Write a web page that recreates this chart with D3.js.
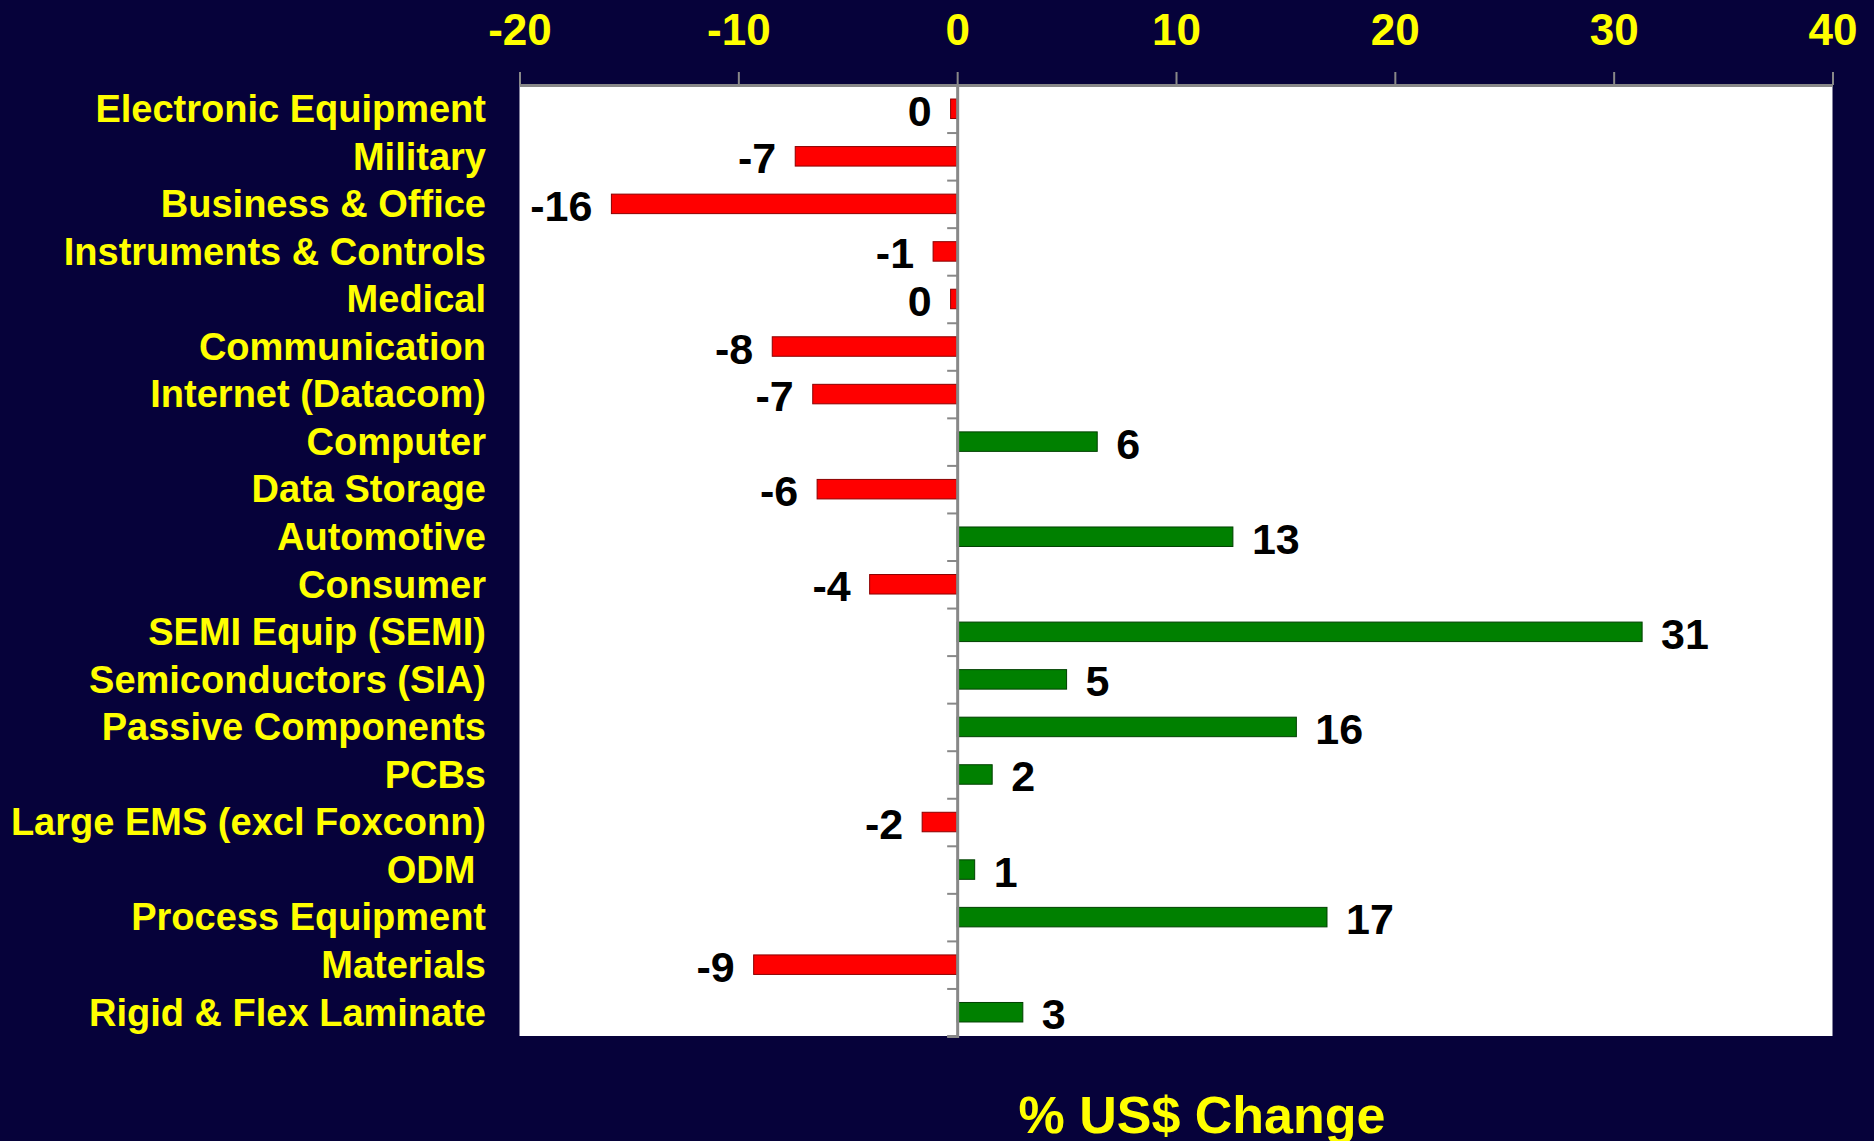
<!DOCTYPE html>
<html>
<head>
<meta charset="utf-8">
<script src="https://cdn.jsdelivr.net/npm/d3@7"></script>
<style>
  html, body { margin: 0; padding: 0; background: #06023A; }
  svg { display: block; }
  text { font-family: "Liberation Sans", Arial, sans-serif; font-weight: bold; }
</style>
</head>
<body>
<svg id="chart" width="1874" height="1141"></svg>
<script>
const categories = [
  "Electronic Equipment", "Military", "Business & Office", "Instruments & Controls",
  "Medical", "Communication", "Internet (Datacom)", "Computer", "Data Storage",
  "Automotive", "Consumer", "SEMI Equip (SEMI)", "Semiconductors (SIA)",
  "Passive Components", "PCBs", "Large EMS (excl Foxconn)", "ODM ",
  "Process Equipment", "Materials", "Rigid & Flex Laminate"
];
const values = [
  -0.3, -7.4, -15.8, -1.1, -0.3, -8.45, -6.6, 6.4, -6.4, 12.6,
  -4.0, 31.3, 5.0, 15.5, 1.6, -1.6, 0.8, 16.9, -9.3, 3.0
];
const valueLabels = [
  "0", "-7", "-16", "-1", "0", "-8", "-7", "6", "-6", "13",
  "-4", "31", "5", "16", "2", "-2", "1", "17", "-9", "3"
];
const xTicks = [-20, -10, 0, 10, 20, 30, 40];
const axisTitle = "% US$ Change";

const svg = d3.select("#chart");
const pLeft = 519.5, pRight = 1832.5, pTop = 85, pBottom = 1036;

const x = d3.scaleLinear().domain([-20, 40]).range([pLeft, pRight]);
const y = d3.scaleBand().domain(categories).range([pTop, pBottom]).paddingInner(0.59).paddingOuter(0.295);
const yIdx = d3.scaleLinear().domain([0, categories.length]).range([pTop, pBottom]);

// plot background
svg.append("rect")
  .attr("x", pLeft).attr("y", pTop)
  .attr("width", pRight - pLeft).attr("height", pBottom - pTop)
  .attr("fill", "#ffffff");

// bars
svg.append("g").selectAll("rect")
  .data(categories)
  .join("rect")
  .attr("x", (d, i) => Math.min(x(0), x(values[i])))
  .attr("y", d => y(d))
  .attr("width", (d, i) => Math.abs(x(values[i]) - x(0)))
  .attr("height", y.bandwidth())
  .attr("fill", (d, i) => values[i] < 0 ? "#FF0000" : "#008000")
  .attr("stroke", (d, i) => values[i] < 0 ? "#8B0000" : "#004000")
  .attr("stroke-width", 1);

// zero-line axis with category boundary ticks
const yAxis = d3.axisLeft(yIdx)
  .tickValues(d3.range(0, categories.length + 1))
  .tickSize(10)
  .tickFormat("");
const gy = svg.append("g")
  .attr("transform", `translate(${x(0)},0)`)
  .call(yAxis);
gy.select(".domain").attr("stroke", "#888888").attr("stroke-width", 3);
gy.selectAll(".tick line").attr("stroke", "#888888").attr("stroke-width", 2);

// top axis
const xAxis = d3.axisTop(x).tickValues(xTicks).tickSize(13).tickSizeOuter(0).tickFormat(d3.format("d"));
const gx = svg.append("g")
  .attr("transform", `translate(0,${pTop})`)
  .call(xAxis);
gx.select(".domain").attr("stroke", "#888888").attr("stroke-width", 3);
gx.selectAll(".tick line").attr("stroke", "#888888").attr("stroke-width", 2);
gx.selectAll(".tick text")
  .text(d => String(d))
  .attr("fill", "#FFFF00")
  .attr("font-size", 44)
  .attr("y", -40)
  .attr("dy", "0")
  .attr("text-anchor", "middle");

// category labels
svg.append("g").selectAll("text")
  .data(categories)
  .join("text")
  .attr("x", 486)
  .attr("y", d => y(d) + y.bandwidth() / 2)
  .attr("dy", "0.35em")
  .attr("text-anchor", "end")
  .attr("fill", "#FFFF00")
  .attr("font-size", 38)
  .style("white-space", "pre")
  .text(d => d);

// value labels
svg.append("g").selectAll("text")
  .data(categories)
  .join("text")
  .attr("x", (d, i) => values[i] < 0 ? x(values[i]) - 19 : x(values[i]) + 19)
  .attr("y", d => y(d) + y.bandwidth() / 2 + 17)
  .attr("text-anchor", (d, i) => values[i] < 0 ? "end" : "start")
  .attr("fill", "#000000")
  .attr("font-size", 43)
  .text((d, i) => valueLabels[i]);

// axis title
svg.append("text")
  .attr("x", 1202)
  .attr("y", 1133)
  .attr("text-anchor", "middle")
  .attr("fill", "#FFFF00")
  .attr("font-size", 52)
  .text(axisTitle);
</script>
</body>
</html>
